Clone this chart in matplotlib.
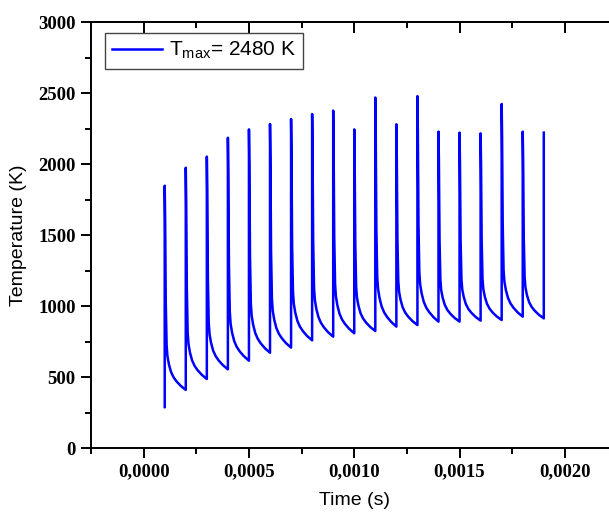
import matplotlib
matplotlib.use("Agg")
import matplotlib.pyplot as plt
from matplotlib.ticker import MultipleLocator, FuncFormatter

# Laser pulse instants (s)
pulse_times = [0.0001, 0.0002, 0.0003, 0.0004, 0.0005, 0.0006, 0.0007,
               0.0008, 0.0009, 0.0010, 0.0011, 0.0012, 0.0013, 0.0014,
               0.0015, 0.0016, 0.0017, 0.0018, 0.0019]
# Peak temperature reached at each pulse (K)
peak_temps = [1849, 1976, 2054, 2187, 2246, 2284, 2319, 2354, 2378, 2246,
              2470, 2282, 2480, 2230, 2223, 2218, 2425, 2230, 2223]
# Temperature just before each pulse (K)
valley_temps = [290, 411, 488, 556, 617, 673, 709, 760, 786, 810,
                826, 857, 868, 892, 892, 899, 903, 927, 915]
# Cooling profile between pulses: fraction of the period elapsed and
# remaining share of the peak-to-valley drop
decay_phase = [0.0, 0.02, 0.05, 0.09, 0.13, 0.20, 0.30, 0.42, 0.56, 0.76, 1.0]
decay_share = [1.0, 0.84, 0.43, 0.22, 0.165, 0.125, 0.088, 0.062, 0.042, 0.02, 0.0]

legend_label = r"$\mathregular{T_{max}}$= 2480 K"

period = pulse_times[1] - pulse_times[0]
time_pts = [pulse_times[0]]
temp_pts = [valley_temps[0]]
for k, (tk, pk) in enumerate(zip(pulse_times, peak_temps)):
    time_pts.append(tk)
    temp_pts.append(pk)
    if k + 1 < len(pulse_times):
        low = valley_temps[k + 1]
        for ph, sh in zip(decay_phase[1:], decay_share[1:]):
            time_pts.append(tk + ph * period)
            temp_pts.append(low + (pk - low) * sh)

plt.rcParams["mathtext.fontset"] = "custom"
plt.rcParams["mathtext.rm"] = "Liberation Sans"
plt.rcParams["mathtext.it"] = "Liberation Sans"

fig = plt.figure(figsize=(6.09, 5.15), dpi=100)
W, H = 609, 515
left, right = 91, 617.5
top, bottom = 22.3, 448.3
ax = fig.add_axes([left / W, 1 - bottom / H, (right - left) / W, (bottom - top) / H])

ax.plot(time_pts, temp_pts, color="#0000ff", lw=1.8, label=legend_label)

ax.set_xlim(-0.00025, 0.00225)
ax.set_ylim(0, 3000)

ax.xaxis.set_major_locator(MultipleLocator(0.0005))
ax.xaxis.set_minor_locator(MultipleLocator(0.00025))
ax.yaxis.set_major_locator(MultipleLocator(500))
ax.yaxis.set_minor_locator(MultipleLocator(250))
ax.xaxis.set_major_formatter(FuncFormatter(lambda v, p: f"{v:.4f}".replace(".", ",").replace("-0,0000", "0,0000")))
ax.yaxis.set_major_formatter(FuncFormatter(lambda v, p: f"{v:.0f}"))

for s in ax.spines.values():
    s.set_linewidth(1.4)

ax.tick_params(which="major", direction="out", length=7, width=1.4, labelsize=13.5)
ax.tick_params(which="minor", direction="out", length=4, width=1.4)
ax.tick_params(axis="x", which="major", pad=4)
ax.tick_params(axis="y", which="major", pad=4)
for lab in ax.get_xticklabels() + ax.get_yticklabels():
    lab.set_fontfamily("Liberation Serif")
    lab.set_fontweight("bold")

# Mirrored ticks on the top edge, pointing inward
sec = ax.secondary_xaxis("top")
sec.xaxis.set_major_locator(MultipleLocator(0.0005))
sec.xaxis.set_minor_locator(MultipleLocator(0.00025))
sec.tick_params(which="major", direction="in", length=8, width=1.4, labeltop=False)
sec.tick_params(which="minor", direction="in", length=4, width=1.4)
sec.spines["top"].set_linewidth(1.4)

ax.set_xlabel("Time (s)", fontfamily="Liberation Sans", fontsize=14, labelpad=8)
ax.set_ylabel("Temperature (K)", fontfamily="Liberation Sans", fontsize=14, labelpad=8)

leg = ax.legend(loc="upper left", bbox_to_anchor=(0.0266, 0.9756), borderaxespad=0,
                prop={"family": "Liberation Sans", "size": 15},
                handlelength=2.4, handletextpad=0.3, borderpad=0.35,
                fancybox=False, framealpha=1, edgecolor="#444444")
leg.get_frame().set_linewidth(1.0)

fig.savefig("out.png", dpi=100)
